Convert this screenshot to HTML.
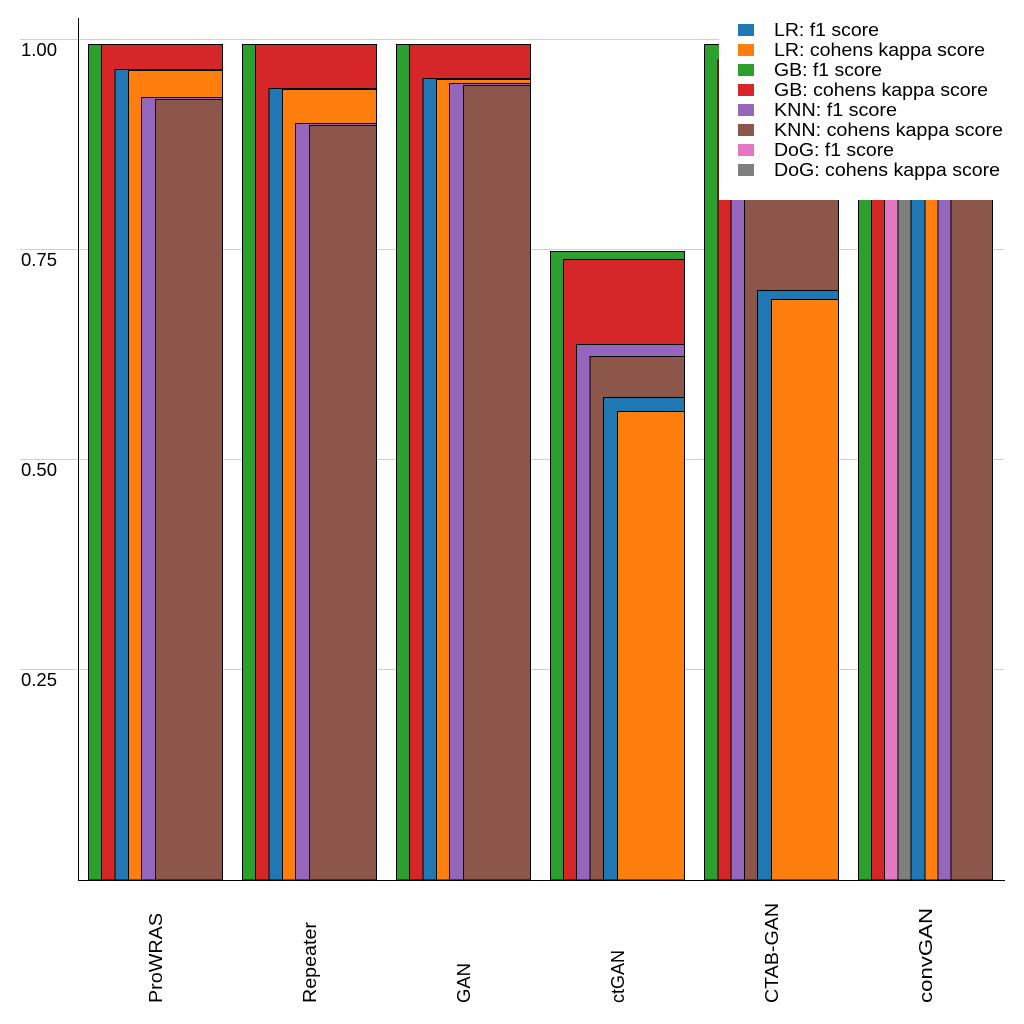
<!DOCTYPE html>
<html><head><meta charset="utf-8"><style>body{margin:0;background:#fff}svg{display:block}text{font-family:"Liberation Sans",sans-serif;fill:#000}</style></head><body>
<svg width="1024" height="1024" xmlns="http://www.w3.org/2000/svg">
<g stroke="#d0d0d0" stroke-width="1">
<line x1="20" y1="39.5" x2="1004" y2="39.5"/><line x1="20" y1="249.5" x2="1004" y2="249.5"/><line x1="20" y1="459.5" x2="1004" y2="459.5"/><line x1="20" y1="669.5" x2="1004" y2="669.5"/>
</g>
<g font-size="18">
<text x="21" y="56" textLength="36" lengthAdjust="spacingAndGlyphs">1.00</text><text x="21" y="266" textLength="36" lengthAdjust="spacingAndGlyphs">0.75</text><text x="21" y="476" textLength="36" lengthAdjust="spacingAndGlyphs">0.50</text><text x="21" y="686" textLength="36" lengthAdjust="spacingAndGlyphs">0.25</text>
</g>
<g stroke="#000" stroke-width="1">
<rect x="88.5" y="44.5" width="134" height="835.5" fill="#2ca02c"/>
<rect x="101.5" y="44.5" width="121" height="835.5" fill="#d62728"/>
<rect x="115" y="69.5" width="107.5" height="810.5" fill="#1f77b4"/>
<rect x="128.5" y="70.5" width="94" height="809.5" fill="#ff7f0e"/>
<rect x="141.5" y="97.5" width="81" height="782.5" fill="#9467bd"/>
<rect x="155.5" y="99.5" width="67" height="780.5" fill="#8c564b"/>
<rect x="242.5" y="44.5" width="134" height="835.5" fill="#2ca02c"/>
<rect x="255.5" y="44.5" width="121" height="835.5" fill="#d62728"/>
<rect x="269" y="88.5" width="107.5" height="791.5" fill="#1f77b4"/>
<rect x="282.5" y="89.5" width="94" height="790.5" fill="#ff7f0e"/>
<rect x="295.5" y="123.5" width="81" height="756.5" fill="#9467bd"/>
<rect x="309.5" y="125.5" width="67" height="754.5" fill="#8c564b"/>
<rect x="396.5" y="44.5" width="134" height="835.5" fill="#2ca02c"/>
<rect x="409.5" y="44.5" width="121" height="835.5" fill="#d62728"/>
<rect x="423" y="78.5" width="107.5" height="801.5" fill="#1f77b4"/>
<rect x="436.5" y="79.5" width="94" height="800.5" fill="#ff7f0e"/>
<rect x="449.5" y="83.5" width="81" height="796.5" fill="#9467bd"/>
<rect x="463.5" y="85.5" width="67" height="794.5" fill="#8c564b"/>
<rect x="550.5" y="251.5" width="134" height="628.5" fill="#2ca02c"/>
<rect x="563.5" y="259.5" width="121" height="620.5" fill="#d62728"/>
<rect x="576.5" y="344.5" width="108" height="535.5" fill="#9467bd"/>
<rect x="590" y="356.5" width="94.5" height="523.5" fill="#8c564b"/>
<rect x="603.5" y="397.5" width="81" height="482.5" fill="#1f77b4"/>
<rect x="617.5" y="411.5" width="67" height="468.5" fill="#ff7f0e"/>
<rect x="704.5" y="44.5" width="134" height="835.5" fill="#2ca02c"/>
<rect x="718" y="60" width="120.5" height="820" fill="#d62728"/>
<rect x="731" y="60" width="107.5" height="820" fill="#9467bd"/>
<rect x="744.5" y="60" width="94" height="820" fill="#8c564b"/>
<rect x="757.5" y="290.5" width="81" height="589.5" fill="#1f77b4"/>
<rect x="771.5" y="299.5" width="67" height="580.5" fill="#ff7f0e"/>
<rect x="858.5" y="60" width="134" height="820" fill="#2ca02c"/>
<rect x="871.5" y="60" width="121" height="820" fill="#d62728"/>
<rect x="884.5" y="60" width="108" height="820" fill="#e377c2"/>
<rect x="898" y="60" width="94.5" height="820" fill="#7f7f7f"/>
<rect x="911" y="60" width="81.5" height="820" fill="#1f77b4"/>
<rect x="925" y="60" width="67.5" height="820" fill="#ff7f0e"/>
<rect x="938" y="60" width="54.5" height="820" fill="#9467bd"/>
<rect x="951" y="60" width="41.5" height="820" fill="#8c564b"/>
</g>
<line x1="78.5" y1="18" x2="78.5" y2="880" stroke="#000"/>
<line x1="78" y1="880.5" x2="1005" y2="880.5" stroke="#000"/>
<rect x="719" y="12" width="300" height="188" fill="#fff"/>
<g font-size="18" lengthAdjust="spacingAndGlyphs">
<rect x="738" y="24" width="16" height="12" fill="#1f77b4"/><text x="774" y="36" textLength="105" lengthAdjust="spacingAndGlyphs">LR: f1 score</text>
<rect x="738" y="44" width="16" height="12" fill="#ff7f0e"/><text x="774" y="56" textLength="211" lengthAdjust="spacingAndGlyphs">LR: cohens kappa score</text>
<rect x="738" y="64" width="16" height="12" fill="#2ca02c"/><text x="774" y="76" textLength="108" lengthAdjust="spacingAndGlyphs">GB: f1 score</text>
<rect x="738" y="84" width="16" height="12" fill="#d62728"/><text x="774" y="96" textLength="214" lengthAdjust="spacingAndGlyphs">GB: cohens kappa score</text>
<rect x="738" y="104" width="16" height="12" fill="#9467bd"/><text x="774" y="116" textLength="123" lengthAdjust="spacingAndGlyphs">KNN: f1 score</text>
<rect x="738" y="124" width="16" height="12" fill="#8c564b"/><text x="774" y="136" textLength="229" lengthAdjust="spacingAndGlyphs">KNN: cohens kappa score</text>
<rect x="738" y="144" width="16" height="12" fill="#e377c2"/><text x="774" y="156" textLength="120" lengthAdjust="spacingAndGlyphs">DoG: f1 score</text>
<rect x="738" y="164" width="16" height="12" fill="#7f7f7f"/><text x="774" y="176" textLength="226" lengthAdjust="spacingAndGlyphs">DoG: cohens kappa score</text>
</g>
<g font-size="18">
<text transform="translate(162,1003) rotate(-90)" textLength="90" lengthAdjust="spacingAndGlyphs">ProWRAS</text>
<text transform="translate(316,1003) rotate(-90)" textLength="81" lengthAdjust="spacingAndGlyphs">Repeater</text>
<text transform="translate(470,1003) rotate(-90)" textLength="40" lengthAdjust="spacingAndGlyphs">GAN</text>
<text transform="translate(624,1003) rotate(-90)" textLength="53" lengthAdjust="spacingAndGlyphs">ctGAN</text>
<text transform="translate(778,1003) rotate(-90)" textLength="100" lengthAdjust="spacingAndGlyphs">CTAB-GAN</text>
<text transform="translate(932,1003) rotate(-90)" textLength="95" lengthAdjust="spacingAndGlyphs">convGAN</text>
</g>
</svg>
</body></html>
